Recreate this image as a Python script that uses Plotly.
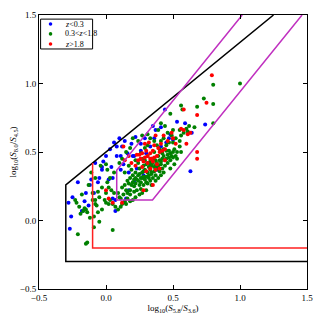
import plotly.graph_objects as go

# z < 0.3
blue_x = [-0.28, -0.26, -0.27, -0.25, -0.21, -0.16, -0.15, -0.18, -0.13, -0.12, -0.08, -0.03, -0.06, 0.05, 0.07,
          0.08, 0.03, 0.00, 0.12, 0.14, 0.16, 0.19, 0.21, 0.26, 0.30, 0.33, 0.22, 0.26, 0.35, 0.37, 0.41, 0.44,
          0.45, 0.48, 0.50, 0.53, 0.59, 0.64, 0.74, 0.63, 0.11, 0.17, 0.21, 0.28, 0.31, 0.38, 0.17, 0.15, -0.11,
          -0.09, -0.03, 0.04, 0.07, -0.05, 0.26, 0.11, 0.08, 0.23, 0.41, 0.47, 0.20, 0.34, 0.10, 0.06, -0.02,
          0.13, 0.29, 0.36, 0.05, 0.02]
blue_y = [0.13, 0.03, -0.06, 0.17, 0.28, 0.14, 0.20, 0.07, 0.11, 0.26, 0.42, 0.37, 0.28, 0.31, 0.07,
          0.47, 0.52, 0.47, 0.54, 0.58, 0.49, 0.56, 0.47, 0.51, 0.49, 0.54, 0.61, 0.56, 0.69, 0.66, 0.68, 0.81,
          0.57, 0.63, 0.59, 0.72, 0.71, 0.64, 0.70, 0.36, 0.37, 0.35, 0.28, 0.33, 0.42, 0.37, 0.22, 0.16, 0.30,
          0.20, 0.39, 0.39, 0.15, 0.31, 0.45, 0.47, 0.54, 0.38, 0.54, 0.60, 0.47, 0.45, 0.60, 0.57, 0.43,
          0.41, 0.60, 0.60, 0.16, 0.30]

# 0.3 < z < 1.8
green_x = [-0.15, -0.14, -0.16, -0.17, -0.20, -0.21, -0.15, -0.14, -0.09, -0.05, 0.05, -0.09, -0.22, -0.18,
           -0.10, -0.08, -0.06, -0.05, -0.03, -0.01, 0.00, 0.02, 0.03, 0.05, 0.07, 0.09, 0.11, -0.11, -0.08,
           -0.13, -0.04, 0.00, 0.01, -0.10, -0.08, -0.07, -0.19, -0.23, -0.12, -0.03, 0.00, 0.02, 0.04, -0.06,
           0.06, 0.09, 0.11, 0.14, 0.12,
           0.13, 0.16, 0.18, 0.17, 0.20, 0.21, 0.22, 0.23, 0.25, 0.26, 0.27, 0.28, 0.30, 0.31, 0.32, 0.33,
           0.34, 0.36, 0.37, 0.38, 0.40, 0.41, 0.42, 0.43, 0.46, 0.47, 0.48, 0.50, 0.18, 0.16, 0.15, 0.21,
           0.23, 0.26, 0.28, 0.31, 0.33, 0.35, 0.37, 0.40, 0.42, 0.44, 0.46, 0.48, 0.50, 0.52, 0.53, 0.51,
           0.45, 0.43, 0.39, 0.35, 0.33, 0.30, 0.28, 0.25, 0.22, 0.20, 0.18, 0.16, 0.14, 0.12, 0.19, 0.24,
           0.27, 0.29, 0.31, 0.36, 0.38, 0.40, 0.34, 0.32, 0.29, 0.27, 0.24, 0.22, 0.21, 0.19, 0.24, 0.26,
           0.29, 0.30, 0.32, 0.34, 0.36, 0.38, 0.39, 0.41, 0.44, 0.45, 0.47, 0.49, 0.30, 0.27, 0.25, 0.22,
           0.20, 0.18, 0.13, 0.15, 0.10, 0.34, 0.37, 0.39, 0.25, 0.28, 0.33, 0.35, 0.37, 0.42, 0.45, 0.47,
           0.50, 0.52, 0.55, 0.56, 0.58, 0.60, 0.55, 0.49, 0.46, 0.43, 0.41, 0.36, 0.33, 0.31, 0.27, 0.24,
           0.20, 0.18, 0.15, 0.12, 0.10, 0.06, 0.03, 0.01, 0.14, 0.17, 0.22, 0.26, 0.29, 0.31, 0.39, 0.41,
           0.44, 0.48, 0.56, 0.57, 0.68, 0.73, 0.80, 0.80, 1.00, 0.80, 0.62, 0.66, 0.61, 0.50, 0.55, 0.56,
           0.53, 0.51, 0.48, 0.43, 0.41]
green_y = [0.08, 0.06, 0.09, 0.07, 0.10, -0.10, -0.17, -0.16, 0.03, -0.01, -0.07, -0.05, 0.13, 0.19,
           0.20, 0.15, 0.21, 0.17, 0.24, 0.15, 0.13, 0.12, 0.15, 0.12, 0.10, 0.08, 0.10, 0.35, 0.31,
           0.26, 0.40, 0.41, 0.37, 0.15, 0.12, 0.11, 0.05, 0.15, 0.02, 0.08, 0.20, 0.24, 0.22, 0.06,
           0.20, 0.20, 0.16, 0.14, 0.12,
           0.19, 0.20, 0.22, 0.27, 0.28, 0.25, 0.27, 0.30, 0.26, 0.28, 0.31, 0.32, 0.28, 0.35, 0.33, 0.37,
           0.35, 0.39, 0.40, 0.42, 0.44, 0.43, 0.45, 0.47, 0.48, 0.46, 0.49, 0.50, 0.19, 0.16, 0.22, 0.21,
           0.22, 0.23, 0.26, 0.27, 0.29, 0.31, 0.33, 0.36, 0.38, 0.40, 0.42, 0.44, 0.46, 0.47, 0.50, 0.52,
           0.51, 0.52, 0.47, 0.45, 0.43, 0.41, 0.40, 0.38, 0.35, 0.33, 0.31, 0.29, 0.26, 0.24, 0.37, 0.42,
           0.45, 0.44, 0.47, 0.50, 0.55, 0.52, 0.40, 0.39, 0.37, 0.35, 0.33, 0.31, 0.30, 0.26, 0.29, 0.31,
           0.30, 0.32, 0.31, 0.34, 0.36, 0.38, 0.40, 0.41, 0.44, 0.45, 0.51, 0.47, 0.22, 0.20, 0.19, 0.17,
           0.15, 0.14, 0.13, 0.12, 0.17, 0.26, 0.29, 0.31, 0.34, 0.36, 0.41, 0.42, 0.44, 0.49, 0.55, 0.57,
           0.57, 0.60, 0.58, 0.62, 0.64, 0.67, 0.66, 0.62, 0.64, 0.60, 0.58, 0.58, 0.60, 0.63, 0.62, 0.58,
           0.60, 0.53, 0.50, 0.45, 0.42, 0.35, 0.31, 0.28, 0.35, 0.40, 0.44, 0.49, 0.53, 0.55, 0.66, 0.71,
           0.69, 0.78, 0.84, 0.81, 0.83, 0.89, 0.99, 0.85, 1.00, 0.71, 0.69, 0.68, 0.65, 0.66, 0.54, 0.50,
           0.45, 0.41, 0.38, 0.35, 0.33]

# z > 1.8
red_x = [0.79, 0.75, 0.58, 0.68, 0.68, 0.68, 0.63, 0.61, 0.58, 0.56, 0.49, 0.43, 0.37, 0.32, 0.29, 0.36,
         0.39, 0.42, 0.40, 0.35, 0.33, 0.30, 0.27, 0.38, 0.36, 0.34, 0.25, 0.23, 0.26, 0.24, 0.31, 0.29,
         0.33, 0.35, 0.14, 0.13, 0.35, 0.28, 0.00, 0.02, 0.05, 0.12, 0.31, 0.44, 0.46, 0.41, 0.33, 0.38,
         0.27, 0.22, 0.19, 0.28, 0.30, 0.37, 0.44, 0.40, 0.17, 0.50, 0.52, 0.60]
red_y = [1.06, 0.86, 0.81, 0.77, 0.50, 0.45, 0.64, 0.63, 0.66, 0.67, 0.64, 0.62, 0.62, 0.57, 0.56, 0.55,
         0.53, 0.51, 0.50, 0.51, 0.49, 0.51, 0.49, 0.47, 0.46, 0.45, 0.48, 0.48, 0.45, 0.44, 0.47, 0.46,
         0.45, 0.43, 0.44, 0.54, 0.26, 0.22, 0.22, 0.16, 0.13, 0.13, 0.42, 0.52, 0.58, 0.56, 0.38, 0.41,
         0.39, 0.40, 0.42, 0.43, 0.36, 0.37, 0.44, 0.38, 0.47, 0.60, 0.56, 0.56]

# selection boundaries
lacy04_x = [1.5, -0.3, -0.3, 1.25]
lacy04_y = [-0.3, -0.3, 0.26, 1.5]
lacy07_x = [1.5, -0.1, -0.1]
lacy07_y = [-0.2, -0.2, 0.42]
donley_x = [1.0165, 0.08, 0.08, 0.347, 1.463]
donley_y = [1.5, 0.367, 0.15, 0.15, 1.5]

groups = [(blue_x, blue_y, "#0000ff", "<i>z</i><0.3"),
          (green_x, green_y, "#008000", "0.3<<i>z</i><1.8"),
          (red_x, red_y, "#ff0000", "<i>z</i>>1.8")]

fig = go.Figure()
for xs, ys, col, name in groups:
    fig.add_trace(go.Scatter(x=xs, y=ys, mode="markers", name=name, showlegend=False,
                             marker=dict(color=col, size=4, line=dict(width=0))))

fig.add_trace(go.Scatter(x=lacy04_x, y=lacy04_y, mode="lines", line=dict(color="black", width=1.5), showlegend=False))
fig.add_trace(go.Scatter(x=lacy07_x, y=lacy07_y, mode="lines", line=dict(color="#ff2020", width=1.5), showlegend=False))
fig.add_trace(go.Scatter(x=donley_x, y=donley_y, mode="lines", line=dict(color="#c030c0", width=1.5), showlegend=False))

# small legend box like matplotlib's
fig.add_shape(type="rect", xref="paper", yref="paper", x0=0.006, x1=0.2, y0=0.876, y1=0.985,
              line=dict(color="black", width=1), fillcolor="white")
row_y = [0.967, 0.931, 0.894]
for (xs, ys, col, name), ry in zip(groups, row_y):
    fig.add_shape(type="circle", xref="paper", yref="paper", xsizemode="pixel", ysizemode="pixel",
                  xanchor=0.043, yanchor=ry, x0=-1.8, x1=1.8, y0=-1.8, y1=1.8,
                  fillcolor=col, line=dict(width=0))
    fig.add_annotation(x=0.091, y=ry, xref="paper", yref="paper", text=name, showarrow=False,
                       xanchor="left", yanchor="middle", font=dict(size=8))

axis_common = dict(range=[-0.5, 1.5], dtick=0.5, tickformat=".1f", showgrid=False, zeroline=False,
                   showline=True, linecolor="black", linewidth=1, mirror="allticks", ticks="inside",
                   ticklen=4, tickcolor="black", tickfont=dict(size=9), automargin=False)

# page body adds 8px, so figure is 315 and margins shifted
fig.update_layout(
    width=315, height=315,
    margin=dict(l=31, r=16, t=7, b=34),
    paper_bgcolor="white", plot_bgcolor="white",
    font=dict(family="Liberation Serif", color="black", size=9),
    xaxis=dict(axis_common, title=dict(text="log<sub>10</sub>(<i>S</i><sub>5.8</sub>/<i>S</i><sub>3.6</sub>)",
                                       font=dict(size=9), standoff=2)),
    yaxis=dict(axis_common, title=dict(text="log<sub>10</sub>(<i>S</i><sub>8.0</sub>/<i>S</i><sub>4.5</sub>)",
                                       font=dict(size=9), standoff=2)),
)

fig.write_html("out.html")
